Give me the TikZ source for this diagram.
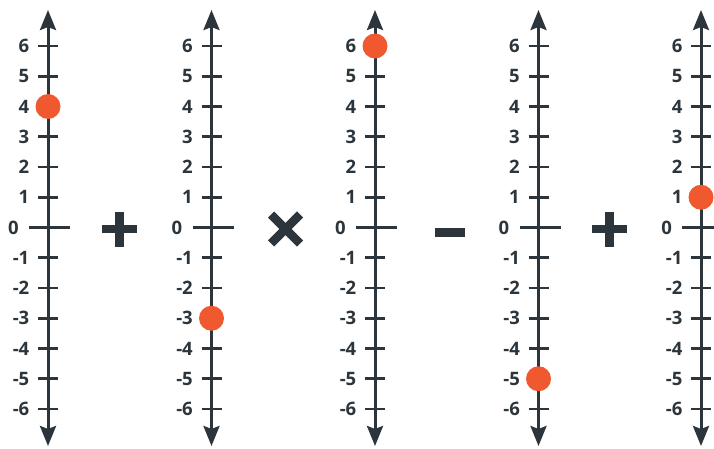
\documentclass[tikz,border=0pt]{standalone}
\usepackage{fontspec}
\setmainfont{Open Sans}
\usetikzlibrary{arrows.meta}
\definecolor{ax}{HTML}{2B353B}
\definecolor{dot}{HTML}{F0582F}
\tikzset{
  axisline/.style={draw=ax, line width=3pt, {Stealth[length=20pt,width=16pt,inset=3pt]}-{Stealth[length=20pt,width=16pt,inset=3pt]}},
  tickline/.style={draw=ax, line width=2.6pt},
  lab/.style={anchor=east, inner sep=0pt, text=ax, font=\fontsize{18.5}{18.5}\selectfont\bfseries},
  pt/.style={circle, fill=dot, inner sep=0pt, minimum size=25pt},
  opbar/.style={draw=ax, line width=8.5pt}
}
\begin{document}
\begin{tikzpicture}[x=1pt,y=-1pt]
\useasboundingbox (0,0) rectangle (714,449);
\foreach \k/\X/\V in {1/48/4, 2/211.5/-3, 3/375/6, 4/538.5/-5, 5/701/1} {
  \coordinate (top\k) at (\X,10);
  \coordinate (bot\k) at (\X,446);
  \draw[axisline] (top\k) -- (bot\k);
  \foreach \n in {-6,...,6} {
    \pgfmathsetmacro{\Y}{227.5-30.25*\n}
    \ifnum\n=0
      \draw[tickline] (\X-19,\Y) -- (\X+22,\Y);
      \node[lab] (l\k z) at (\X-29,\Y) {0};
    \else
      \draw[tickline] (\X-10,\Y) -- (\X+10,\Y);
      \node[lab] (l\k\n) at (\X-18.5,\Y) {\n};
    \fi
  }
  \pgfmathsetmacro{\Yd}{227.5-30.25*\V}
  \node[pt] (p\k) at (\X,\Yd) {};
}
% operators
\node (plusA) at (119.5,229) {};
\draw[opbar] (102,229) -- (137,229);
\draw[opbar] (119.5,211.5) -- (119.5,246.5);
\node (times) at (285.5,229) {};
\draw[opbar] (271,214.5) -- (300,243.5);
\draw[opbar] (271,243.5) -- (300,214.5);
\node (minus) at (450,232.5) {};
\fill[ax] (435,228) rectangle (465,237);
\node (plusB) at (609.5,229) {};
\draw[opbar] (592,229) -- (627,229);
\draw[opbar] (609.5,211.5) -- (609.5,246.5);
\end{tikzpicture}
\end{document}
